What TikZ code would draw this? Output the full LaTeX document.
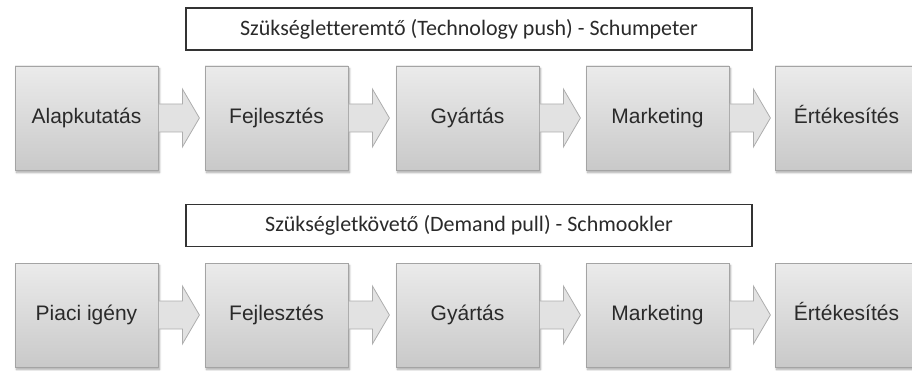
\documentclass[tikz,border=0pt]{standalone}
\usepackage{fontspec}
\setmainfont{Liberation Sans}
\newfontfamily\titlefont[Ligatures=NoCommon]{Carlito}
\usetikzlibrary{shadows.blur,calc}
\definecolor{boxtop}{HTML}{EBEBEB}
\definecolor{boxbot}{HTML}{C9C9C9}
\definecolor{boxline}{HTML}{A4A4A4}
\definecolor{labelink}{HTML}{2A2A2A}
\tikzset{
  x=1pt, y=-1pt,
  stagebox/.style={minimum width=143pt, minimum height=104pt, inner sep=0pt,
    draw=boxline, line width=0.8pt, top color=boxtop, bottom color=boxbot,
    blur shadow={shadow xshift=1.5pt, shadow yshift=-2.5pt, shadow blur steps=6, shadow opacity=35},
    text height=15pt, text depth=4pt,
    font=\fontsize{21}{24}\selectfont, text=labelink},
  titlebox/.style={minimum width=566pt, minimum height=42pt, inner sep=0pt,
    draw=black!80, line width=1.3pt, fill=white,
    font=\titlefont\fontsize{22}{24}\selectfont, text=labelink},
  flowarrow/.style={draw=boxline!90, line width=0.8pt, fill=boxtop!75!boxbot}
}
% block arrow leaving the right side of a stage box
\newcommand\blockarrow[1]{%
  \path[flowarrow] ($(#1.east)+(0,-14)$) -- ++(24,0) -- ++(0,-15) -- ($(#1.east)+(41,0)$)
    -- ($(#1.east)+(24,29)$) -- ++(0,-15) -- ($(#1.east)+(0,14)$) -- cycle;}
\begin{document}
\begin{tikzpicture}
\useasboundingbox (0,0) rectangle (912,371);
\begin{scope}
\clip (0,0) rectangle (912,371);
% technology push row
\node[titlebox] (t1) at (469,29) {Szükségletteremtő (Technology push) - Schumpeter};
\node[stagebox] (a1) at (86.5,118) {Alapkutatás};
\node[stagebox] (a2) at (276.5,118) {Fejlesztés};
\node[stagebox] (a3) at (467.5,118) {Gyártás};
\node[stagebox] (a4) at (657.5,118) {Marketing};
\node[stagebox] (a5) at (846.5,118) {Értékesítés};
\blockarrow{a1}
\blockarrow{a2}
\blockarrow{a3}
\blockarrow{a4}
% demand pull row
\node[titlebox] (t2) at (469,225.5) {Szükségletkövető (Demand pull) - Schmookler};
\node[stagebox] (b1) at (86.5,315) {Piaci igény};
\node[stagebox] (b2) at (276.5,315) {Fejlesztés};
\node[stagebox] (b3) at (467.5,315) {Gyártás};
\node[stagebox] (b4) at (657.5,315) {Marketing};
\node[stagebox] (b5) at (846.5,315) {Értékesítés};
\blockarrow{b1}
\blockarrow{b2}
\blockarrow{b3}
\blockarrow{b4}
\end{scope}
\end{tikzpicture}
\end{document}
